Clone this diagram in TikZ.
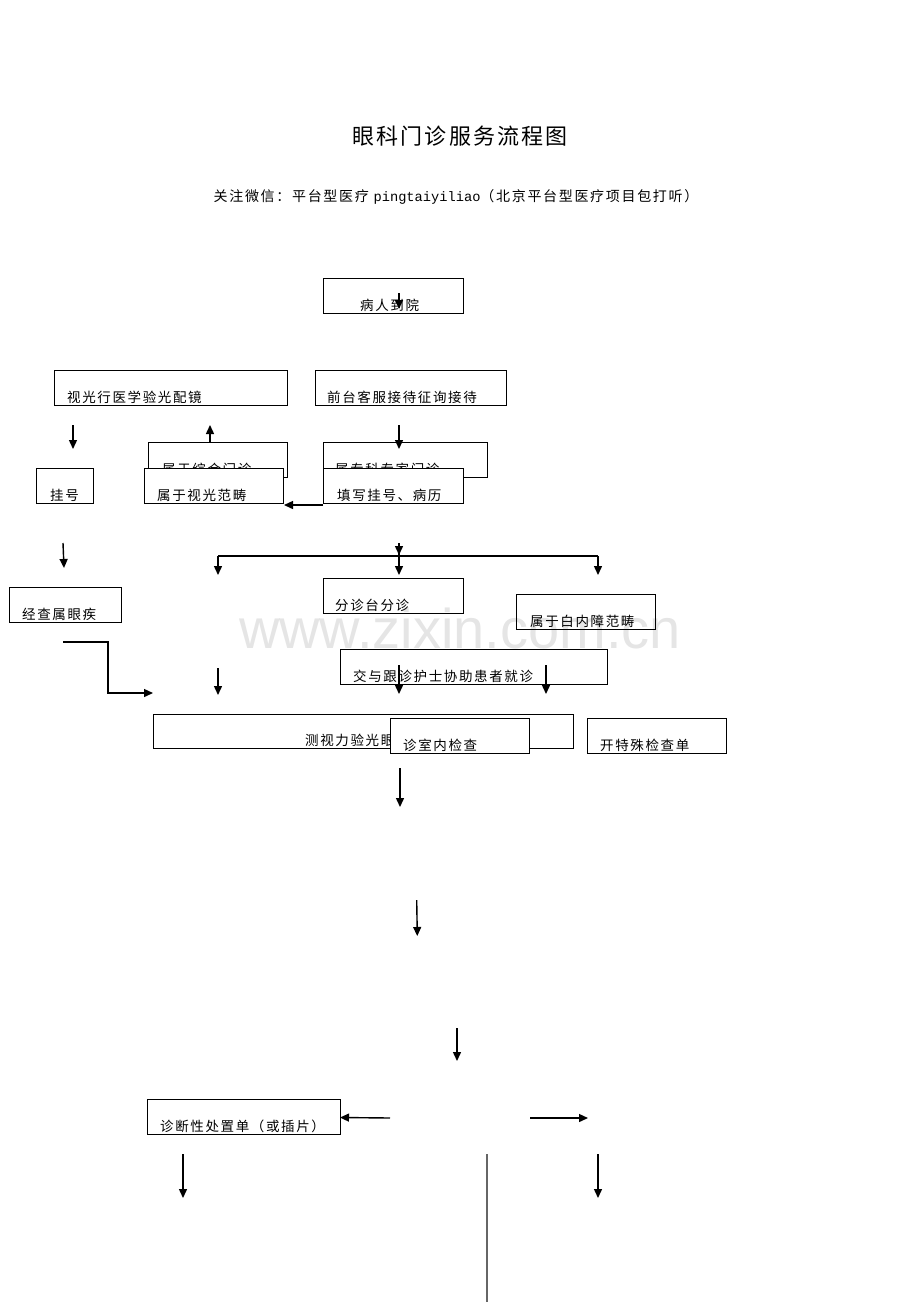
\documentclass[tikz,border=0pt]{standalone}
\usepackage{fontspec}
\setmainfont{Noto Sans CJK SC}
\newfontfamily\cjk[LetterSpace=12]{Noto Sans CJK SC}
\newfontfamily\cjktitle[LetterSpace=10]{Noto Sans CJK SC}
\newfontfamily\monof{Liberation Mono}
\newfontfamily\wmfont{Liberation Sans}
\usetikzlibrary{arrows.meta}
% name, x1, y1, x2, y2, text ; optional text offset
\newcommand\flowbox[7][13]{%
  \node[box, minimum width={(#5-#3)*1pt}, minimum height={(#6-#4)*1pt}] (#2) at (#3,#4) {};
  \node[lbl] (#2t) at ([xshift=#1pt,yshift=3pt]#2.south west) {#7};
}
\begin{document}
\begin{tikzpicture}[x=1pt,y=-1pt,
  box/.style={draw=black, line width=0.9pt, fill=white, inner sep=0pt, outer sep=0pt, anchor=north west},
  lbl/.style={anchor=base west, inner sep=0pt, font=\cjk\fontsize{13.5}{14}\selectfont},
  arr/.style={line width=1.4pt, -{Triangle[length=9pt,width=8pt]}},
  plain/.style={line width=1.4pt},
  ]
\useasboundingbox[fill=white] (0,0) rectangle (920,1302);

% title
\node[font=\cjktitle\fontsize{22}{24}\selectfont, anchor=base] (title) at (460,144) {眼科门诊服务流程图};
\node[font=\cjk\fontsize{14}{16}\selectfont, anchor=base] (sub) at (456,201)
  {关注微信：平台型医疗 {\monof\fontsize{13.7}{16}\selectfont pingtaiyiliao}（北京平台型医疗项目包打听）};

% boxes (back ones first)
\flowbox[37]{b1}{323}{278}{463}{313}{病人到院}
\flowbox{b2}{54}{370}{287}{405}{视光行医学验光配镜}
\flowbox[12]{b3}{315}{370}{506}{405}{前台客服接待征询接待}
\flowbox[14]{b4}{148}{442}{287}{477}{属于综合门诊}
\flowbox[12]{b5}{323}{442}{487}{477}{属专科专家门诊}
\flowbox[14]{b6}{36}{468}{93}{503}{挂号}
\flowbox{b7}{144}{468}{283}{503}{属于视光范畴}
\flowbox[14]{b8}{323}{468}{463}{503}{填写挂号、病历}
\flowbox{b9}{9}{587}{121}{622}{经查属眼疾}
\flowbox[12]{b10}{323}{578}{463}{613}{分诊台分诊}
\flowbox[14]{b11}{516}{594}{655}{629}{属于白内障范畴}
\flowbox{b12}{340}{649}{607}{684}{交与跟诊护士协助患者就诊}
\flowbox[152]{b13}{153}{714}{573}{748}{测视力验光眼压}
\flowbox{b14}{390}{718}{529}{753}{诊室内检查}
\flowbox{b15}{587}{718}{726}{753}{开特殊检查单}
\flowbox{b16}{147}{1099}{340}{1134}{诊断性处置单（或插片）}

% free ends
\coordinate (c1a) at (399,293);  \coordinate (c1b) at (399,309);
\coordinate (c2a) at (73,425);   \coordinate (c2b) at (73,449);
\coordinate (c3b) at (210,425);
\coordinate (c4a) at (399,425);  \coordinate (c4b) at (399,449);
\coordinate (c5a) at (323,505);  \coordinate (c5b) at (284,505);
\coordinate (c6a) at (63,543);   \coordinate (c6b) at (64,568);
\coordinate (c7a) at (399,543);  \coordinate (c7m) at (399,555); \coordinate (c7b) at (399,575);
\coordinate (hl) at (218,556);   \coordinate (hr) at (598,556);
\coordinate (hlb) at (218,575);  \coordinate (hrb) at (598,575);
\coordinate (e1) at (63,642);    \coordinate (e2) at (108,642);
\coordinate (e3) at (108,693);   \coordinate (e4) at (153,693);
\coordinate (c9a) at (218,668);  \coordinate (c9b) at (218,695);
\coordinate (d1a) at (399,665);  \coordinate (d1b) at (399,694);
\coordinate (d2a) at (546,665);  \coordinate (d2b) at (546,694);
\coordinate (f1a) at (400,768);  \coordinate (f1b) at (400,807);
\coordinate (f2a) at (416.7,900); \coordinate (f2b) at (417.3,936);
\coordinate (f3a) at (457,1028); \coordinate (f3b) at (457,1061);
\coordinate (g1a) at (390,1118);
\coordinate (g2a) at (530,1118); \coordinate (g2b) at (588,1118);
\coordinate (h1a) at (183,1154); \coordinate (h1b) at (183,1198);
\coordinate (h2a) at (598,1154); \coordinate (h2b) at (598,1198);
\coordinate (va) at (487,1154);  \coordinate (vb) at (487,1302);

% connectors
\draw[arr] (c1a) -- (c1b);
\draw[arr] (c2a) -- (c2b);
\draw[arr] (b4.north -| c3b) -- (c3b);
\draw[arr] (c4a) -- (c4b);
\draw[arr] (c5a) -- (c5b);
\draw[arr] (c6a) -- (c6b);
\draw[arr] (c7a) -- (c7m);
\draw[arr] (c7a) -- (c7b);
\draw[plain] (hl) -- (hr);
\draw[arr] (hl) -- (hlb);
\draw[arr] (hr) -- (hrb);
\draw[arr] (e1) -- (e2) -- (e3) -- (e4);
\draw[arr] (c9a) -- (c9b);
\draw[arr] (d1a) -- (d1b);
\draw[arr] (d2a) -- (d2b);
\draw[arr] (f1a) -- (f1b);
\draw[arr] (f2a) -- (f2b);
\draw[arr] (f3a) -- (f3b);
\draw[arr] (g1a) -- ([yshift=-1pt]b16.east);
\draw[arr] (g2a) -- (g2b);
\draw[arr] (h1a) -- (h1b);
\draw[arr] (h2a) -- (h2b);
\draw[line width=1.3pt, draw=black!60] (va) -- (vb);

% watermark
\node[font=\wmfont\fontsize{56}{56}\selectfont, text=black, text opacity=0.1, anchor=base, inner sep=0pt] (wm) at (460,648) {www.zixin.com.cn};
\end{tikzpicture}
\end{document}
